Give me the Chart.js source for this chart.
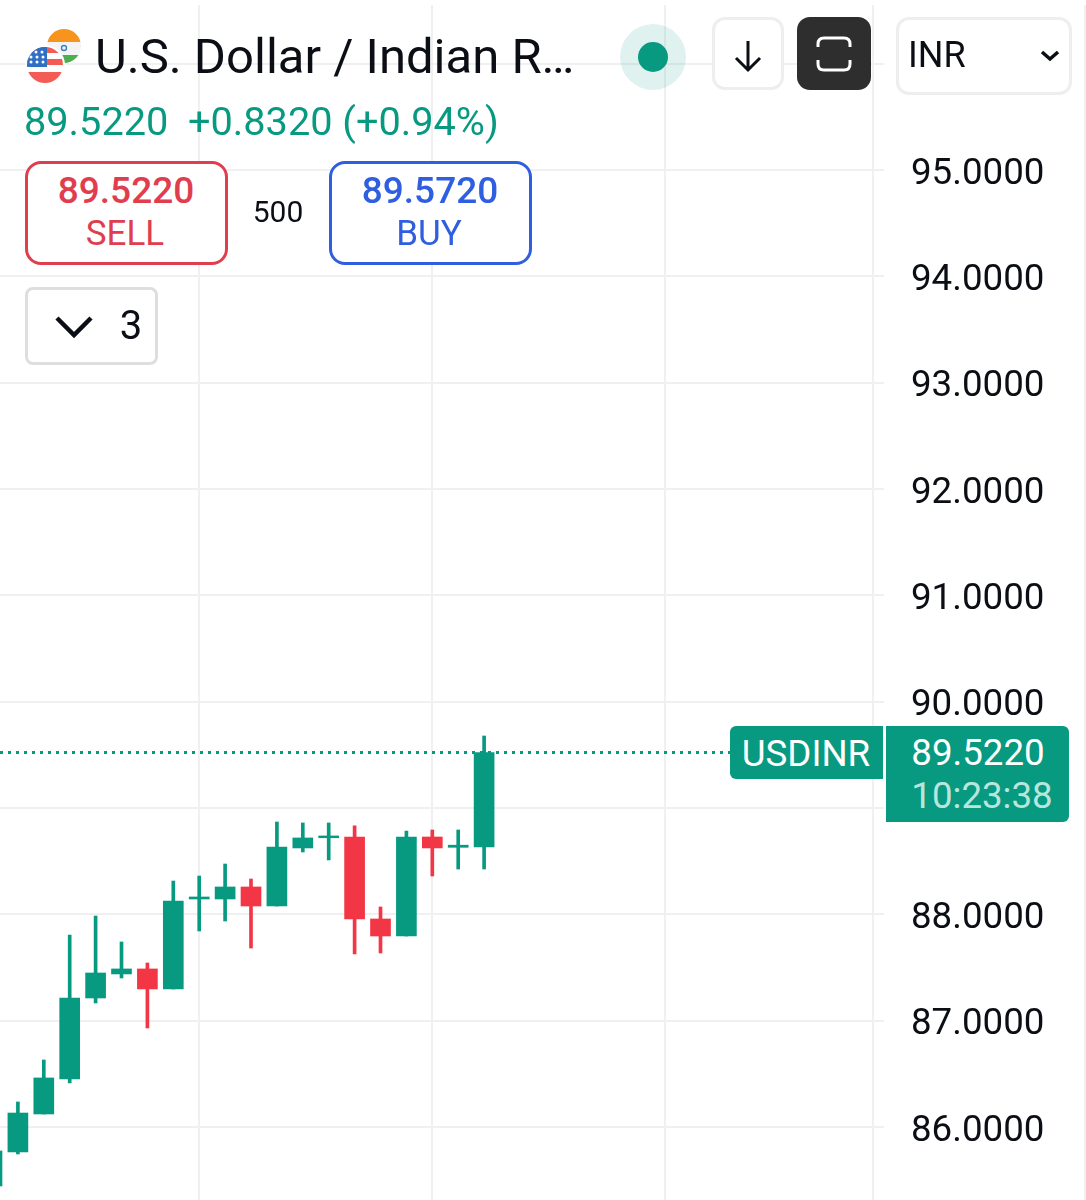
<!DOCTYPE html>
<html lang="en">
<head>
<meta charset="UTF-8">
<title>USDINR</title>
<script src="https://cdn.jsdelivr.net/npm/chart.js"></script>
<style>
  html, body { margin: 0; padding: 0; background: #fff; }
  body { width: 1086px; height: 1200px; position: relative; overflow: hidden; font-family: Roboto, sans-serif; color: #0b0e14; }
  #chart { position: absolute; left: 0; top: 5px; }
  .box { position: absolute; box-sizing: border-box; background: #fff; }
  .txt { position: absolute; white-space: pre; line-height: 1; }
  .ctr { transform: translate(-50%, -50%); }
  .btn { border: 3px solid #eeeeee; border-radius: 13px; }
  svg { position: absolute; overflow: visible; }
  #edge { position: absolute; left: 1084px; top: 5px; width: 2px; height: 1195px; background: #f0f0f0; }
</style>
</head>
<body>
<canvas id="chart" width="1086" height="1195"></canvas>
<div id="edge"></div>

<svg style="left:0;top:0" width="100" height="100">
  <defs>
    <clipPath id="inClip"><circle cx="64" cy="46" r="17"/></clipPath>
    <clipPath id="usClip"><circle cx="45" cy="65" r="18"/></clipPath>
  </defs>
  <g clip-path="url(#inClip)">
    <rect x="46" y="29" width="36" height="13" fill="#f7941d"/>
    <rect x="46" y="42" width="36" height="13" fill="#f4f4f4"/>
    <rect x="46" y="55" width="36" height="10" fill="#4caf50"/>
  </g>
  <circle cx="64" cy="48" r="2.5" fill="none" stroke="#3b82c4" stroke-width="1.4"/>
  <circle cx="45" cy="65" r="20" fill="#fff"/>
  <g clip-path="url(#usClip)">
    <rect x="27" y="47" width="36" height="36" fill="#fff"/>
    <rect x="27" y="47" width="36" height="6" fill="#f25c54"/>
    <rect x="27" y="59" width="36" height="6" fill="#f25c54"/>
    <rect x="27" y="72" width="36" height="11" fill="#f25c54"/>
    <rect x="27" y="47" width="20" height="20" fill="#2f6fc4"/>
    <g fill="#fff">
      <circle cx="36" cy="52" r="1.5"/><circle cx="42" cy="52" r="1.5"/>
      <circle cx="31" cy="57" r="1.5"/><circle cx="37" cy="57" r="1.5"/><circle cx="43" cy="57" r="1.5"/>
      <circle cx="31" cy="62" r="1.5"/><circle cx="37" cy="62" r="1.5"/><circle cx="43" cy="62" r="1.5"/>
    </g>
  </g>
</svg>

<div class="txt" style="left:95px;top:32px;font-size:49px">U.S. Dollar / Indian R…</div>
<div class="txt" style="left:24px;top:102px;font-size:39.7px;color:#089981">89.5220  +0.8320 (+0.94%)</div>

<div class="box" style="left:25px;top:161px;width:203px;height:104px;border:3px solid #e03e4f;border-radius:16px"></div>
<div class="txt ctr" style="left:126px;top:190px;font-size:37px;font-weight:500;color:#e03e4f">89.5220</div>
<div class="txt ctr" style="left:125px;top:233px;font-size:35px;color:#e03e4f">SELL</div>
<div class="txt ctr" style="left:278px;top:212px;font-size:30px">500</div>
<div class="box" style="left:329px;top:161px;width:203px;height:104px;border:3px solid #2f5fe0;border-radius:16px"></div>
<div class="txt ctr" style="left:430px;top:190px;font-size:37px;font-weight:500;color:#2f5fe0">89.5720</div>
<div class="txt ctr" style="left:429px;top:233px;font-size:35px;color:#2f5fe0">BUY</div>

<div class="box" style="left:25px;top:287px;width:133px;height:78px;border:3px solid #dedede;border-radius:8px"></div>
<svg style="left:0;top:0" width="100" height="340"><path d="M57 318 L74 335 L91 318" fill="none" stroke="#0b0e14" stroke-width="4.5"/></svg>
<div class="txt ctr" style="left:131px;top:326px;font-size:40px">3</div>

<svg style="left:620px;top:24px" width="66" height="66">
  <circle cx="33" cy="33" r="33" fill="#089981" fill-opacity="0.13"/>
  <circle cx="33" cy="33" r="15" fill="#089981"/>
</svg>

<div class="box btn" style="left:712px;top:17px;width:72px;height:73px"></div>
<svg style="left:712px;top:17px" width="72" height="73">
  <path d="M36 24 V52 M24 41 L36 53 L48 41" fill="none" stroke="#0b0e14" stroke-width="3"/>
</svg>
<div class="box" style="left:797px;top:17px;width:74px;height:73px;background:#2e2e2e;border-radius:13px"></div>
<svg style="left:797px;top:17px" width="74" height="73">
  <path d="M21 30 V27 Q21 21 27 21 H47 Q53 21 53 27 V30 M21 43 V47 Q21 53 27 53 H47 Q53 53 53 47 V43" fill="none" stroke="#fff" stroke-width="3"/>
</svg>

<div class="box btn" style="left:896px;top:17px;width:176px;height:78px"></div>
<div class="txt" style="left:908px;top:37px;font-size:36px">INR</div>
<svg style="left:1040px;top:50px" width="20" height="14"><path d="M2 2 L10 9 L18 2" fill="none" stroke="#0b0e14" stroke-width="3.5"/></svg>

<div class="box" style="left:730px;top:726px;width:153px;height:53px;background:#089981;border-radius:6px 0 0 6px"></div>
<div class="txt ctr" style="left:806px;top:754px;font-size:36.7px;color:#fff">USDINR</div>
<div class="box" style="left:886px;top:726px;width:183px;height:96px;background:#089981;border-radius:0 6px 6px 0"></div>
<div class="txt ctr" style="left:978px;top:753px;font-size:36.7px;color:#fff">89.5220</div>
<div class="txt ctr" style="left:982px;top:796px;font-size:36.7px;color:#b9e6dc">10:23:38</div>

<script>
  // candle slots, 0 is the one cut off by the left edge
  const candleIndex = [0, 1, 2, 3, 4, 5, 6, 7, 8, 9, 10, 11, 12, 13, 14, 15, 16, 17, 18, 19];
  const opens =  [85.445, 85.765, 86.122, 86.451, 87.213, 87.439, 87.486, 87.298, 88.144, 88.144, 88.257, 88.078, 88.624, 88.720, 88.727, 87.956, 87.796, 88.727, 88.630, 88.633];
  const closes = [85.774, 86.131, 86.461, 87.213, 87.448, 87.486, 87.298, 88.125, 88.163, 88.257, 88.078, 88.633, 88.718, 88.737, 87.956, 87.796, 88.727, 88.624, 88.650, 89.522];
  const highs =  [85.774, 86.235, 86.630, 87.805, 87.984, 87.740, 87.542, 88.313, 88.360, 88.473, 88.332, 88.868, 88.859, 88.859, 88.831, 88.069, 88.783, 88.793, 88.793, 89.677];
  const lows =   [85.445, 85.746, 86.122, 86.414, 87.166, 87.401, 86.931, 87.298, 87.843, 87.937, 87.683, 88.078, 88.586, 88.511, 87.627, 87.636, 87.796, 88.360, 88.426, 88.426];

  const lastPrice = 89.522;
  const priceTicks = [86, 87, 88, 89, 90, 91, 92, 93, 94, 95, 96];
  const timeGridSlots = [8, 17, 26];

  const UP = '#089981';
  const DOWN = '#f23645';
  const GRID = '#f0f0f0';

  const candleColors = candleIndex.map(i => closes[i] >= opens[i] ? UP : DOWN);
  const bodies = candleIndex.map(i => ({ x: i, y: [opens[i], closes[i]] }));
  const wicks = candleIndex.map(i => ({ x: i, y: [lows[i], highs[i]] }));

  new Chart(document.getElementById('chart'), {
    type: 'bar',
    data: {
      datasets: [
        { label: 'body', data: bodies, backgroundColor: candleColors, barThickness: 20, grouped: false },
        { label: 'wick', data: wicks, backgroundColor: candleColors, barThickness: 3, grouped: false },
        {
          type: 'line', label: 'last', data: [{ x: 0, y: lastPrice }, { x: 30, y: lastPrice }],
          borderColor: UP, borderWidth: 3, borderDash: [3, 5], pointRadius: 0, order: 5
        }
      ]
    },
    options: {
      responsive: false,
      animation: false,
      devicePixelRatio: 1,
      layout: { padding: 0 },
      plugins: { legend: { display: false }, tooltip: { enabled: false } },
      scales: {
        x: {
          type: 'linear',
          offset: false,
          min: 0.309,
          max: 34.015,
          afterBuildTicks: axis => { axis.ticks = timeGridSlots.map(v => ({ value: v })); },
          afterFit: axis => { axis.height = 0; },
          ticks: { display: false },
          border: { display: false },
          grid: { offset: false, color: GRID, lineWidth: 2, drawTicks: false }
        },
        y: {
          position: 'right',
          min: 85.313,
          max: 96.552,
          afterBuildTicks: axis => { axis.ticks = priceTicks.map(v => ({ value: v })); },
          afterFit: axis => {
            axis.width = 213;
            axis.paddingTop = 0;
            axis.paddingBottom = 0;
          },
          border: { color: GRID, width: 2 },
          grid: { color: GRID, lineWidth: 2, tickLength: 11, tickColor: GRID },
          ticks: {
            padding: 27,
            color: '#0b0e14',
            // blank first line + small line height nudges the digits down onto the gridline
            font: { family: 'Roboto', size: 36.7, lineHeight: '9px' },
            callback: v => ['', v.toFixed(4)]
          }
        }
      }
    }
  });
</script>
</body>
</html>
